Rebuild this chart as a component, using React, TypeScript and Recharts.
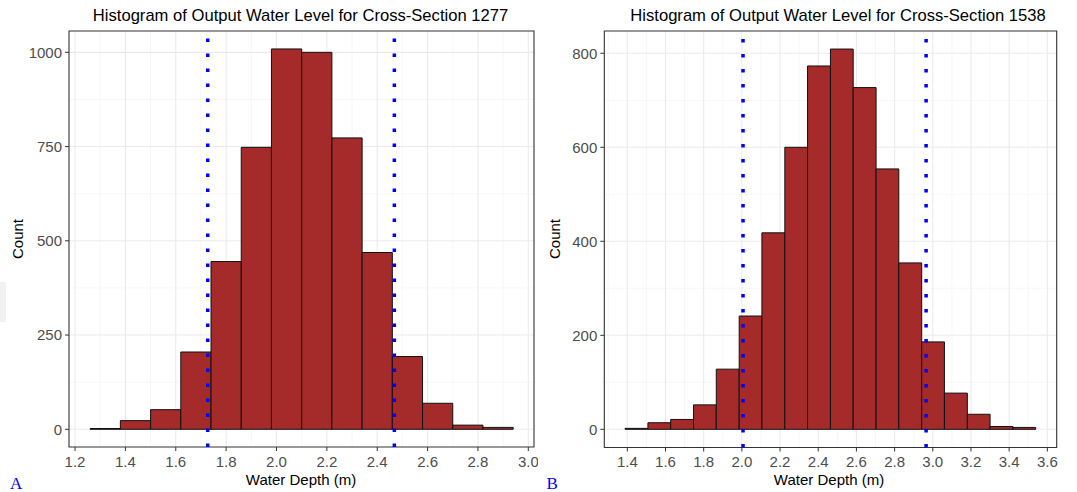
import React from "react";
import {
  ComposedChart,
  XAxis,
  YAxis,
  CartesianGrid,
  ReferenceLine,
  ReferenceArea,
} from "recharts";

// Cross-section 1277: bin edges (m) and counts
const edges1277 = [1.26, 1.38, 1.5, 1.62, 1.74, 1.86, 1.98, 2.1, 2.22, 2.34, 2.46, 2.58, 2.7, 2.82, 2.94];
const counts1277 = [2, 23, 52, 205, 445, 748, 1009, 1000, 773, 469, 193, 69, 11, 5];
const bounds1277 = [1.727, 2.468];
const xTicks1277 = [1.2, 1.4, 1.6, 1.8, 2.0, 2.2, 2.4, 2.6, 2.8, 3.0];
const xMinor1277 = [1.3, 1.5, 1.7, 1.9, 2.1, 2.3, 2.5, 2.7, 2.9];
const yTicks1277 = [0, 250, 500, 750, 1000];
const yMinor1277 = [125, 375, 625, 875];

// Cross-section 1538
const edges1538 = [1.388, 1.508, 1.627, 1.747, 1.866, 1.986, 2.105, 2.225, 2.344, 2.464, 2.583, 2.703, 2.822, 2.942, 3.061, 3.181, 3.3, 3.42, 3.539];
const counts1538 = [2, 14, 21, 52, 128, 241, 418, 600, 773, 809, 727, 554, 354, 186, 77, 32, 6, 4];
const bounds1538 = [2.006, 2.965];
const xTicks1538 = [1.4, 1.6, 1.8, 2.0, 2.2, 2.4, 2.6, 2.8, 3.0, 3.2, 3.4, 3.6];
const xMinor1538 = [1.3, 1.5, 1.7, 1.9, 2.1, 2.3, 2.5, 2.7, 2.9, 3.1, 3.3, 3.5];
const yTicks1538 = [0, 200, 400, 600, 800];
const yMinor1538 = [100, 300, 500, 700];

const FONT = "'Liberation Sans', Arial, sans-serif";
const FILL = "#A52A2A";
const Y_AXIS_W = 50;
const X_AXIS_H = 30;

type HistProps = {
  edges: number[];
  counts: number[];
  bounds: number[];
  xTicks: number[];
  xMinor: number[];
  yTicks: number[];
  yMinor: number[];
  xDomain: [number, number];
  yDomain: [number, number];
  width: number;
  plotLeft: number;
  plotRight: number;
  plotBottom: number;
};

function Histogram(p: HistProps) {
  const rows = p.counts.map((c, i) => ({
    lo: p.edges[i],
    hi: p.edges[i + 1],
    count: c,
  }));
  const tick = { fill: "#4D4D4D", fontSize: 15, fontFamily: FONT };
  const margin = {
    top: 31,
    right: p.plotRight,
    bottom: p.plotBottom - X_AXIS_H,
    left: p.plotLeft - Y_AXIS_W,
  };
  return (
    <ComposedChart width={p.width} height={492} data={rows} margin={margin}>
      <CartesianGrid
        verticalValues={p.xMinor}
        horizontalValues={p.yMinor}
        stroke="#F3F3F3"
        strokeWidth={0.7}
      />
      <CartesianGrid
        verticalValues={p.xTicks}
        horizontalValues={p.yTicks}
        stroke="#EBEBEB"
        strokeWidth={1.1}
      />
      <XAxis
        type="number"
        dataKey="lo"
        domain={p.xDomain}
        ticks={p.xTicks}
        allowDataOverflow
        height={X_AXIS_H}
        axisLine={false}
        tickLine={{ stroke: "#333333" }}
        tickSize={4}
        tickMargin={5}
        tick={tick}
        tickFormatter={(v: number) => v.toFixed(1)}
        interval={0}
      />
      <YAxis
        type="number"
        domain={p.yDomain}
        ticks={p.yTicks}
        allowDataOverflow
        width={Y_AXIS_W}
        axisLine={false}
        tickLine={{ stroke: "#333333" }}
        tickSize={4}
        tickMargin={3}
        tick={tick}
        interval={0}
      />
      {rows.map((r, i) => (
        <ReferenceArea
          key={i}
          x1={r.lo}
          x2={r.hi}
          y1={0}
          y2={r.count}
          fill={FILL}
          fillOpacity={1}
          stroke="#111111"
          strokeWidth={1}
          ifOverflow="visible"
        />
      ))}
      {p.bounds.map((b, i) => (
        <ReferenceLine
          key={"b" + i}
          x={b}
          stroke="#0000FF"
          strokeWidth={3.5}
          strokeDasharray="3.5 11.5"
        />
      ))}
      <ReferenceArea
        x1={p.xDomain[0]}
        x2={p.xDomain[1]}
        y1={p.yDomain[0]}
        y2={p.yDomain[1]}
        fill="none"
        stroke="#333333"
        strokeWidth={1.1}
        ifOverflow="visible"
      />
    </ComposedChart>
  );
}

export default function App() {
  const txt = { fontFamily: FONT, fill: "#000000" };
  const serif = "'Liberation Serif', 'Times New Roman', serif";
  return (
    <div
      style={{
        position: "absolute",
        left: 0,
        top: 0,
        width: 1077,
        height: 492,
        background: "#FFFFFF",
        overflow: "hidden",
      }}
    >
      <div style={{ position: "absolute", left: 0, top: 282, width: 6, height: 40, background: "#F1F1F1" }} />
      <div style={{ position: "absolute", left: 0, top: 0 }}>
        <Histogram
          edges={edges1277}
          counts={counts1277}
          bounds={bounds1277}
          xTicks={xTicks1277}
          xMinor={xMinor1277}
          yTicks={yTicks1277}
          yMinor={yMinor1277}
          xDomain={[1.176, 3.0226]}
          yDomain={[-47, 1056.6]}
          width={538}
          plotLeft={69}
          plotRight={4}
          plotBottom={45}
        />
      </div>
      <div style={{ position: "absolute", left: 538, top: 0 }}>
        <Histogram
          edges={edges1538}
          counts={counts1538}
          bounds={bounds1538}
          xTicks={xTicks1538}
          xMinor={xMinor1538}
          yTicks={yTicks1538}
          yMinor={yMinor1538}
          xDomain={[1.2795, 3.649]}
          yDomain={[-38.7, 847.4]}
          width={539}
          plotLeft={66.3}
          plotRight={20.3}
          plotBottom={44.5}
        />
      </div>
      <svg
        width={1077}
        height={492}
        style={{ position: "absolute", left: 0, top: 0, pointerEvents: "none" }}
      >
        <text x={300.5} y={20.7} textAnchor="middle" fontSize={16.6} {...txt}>
          Histogram of Output Water Level for Cross-Section 1277
        </text>
        <text x={838} y={20.7} textAnchor="middle" fontSize={16.6} {...txt}>
          Histogram of Output Water Level for Cross-Section 1538
        </text>
        <text x={301} y={484.5} textAnchor="middle" fontSize={15} {...txt}>
          Water Depth (m)
        </text>
        <text x={829} y={484.5} textAnchor="middle" fontSize={15} {...txt}>
          Water Depth (m)
        </text>
        <text transform="translate(23,239) rotate(-90)" textAnchor="middle" fontSize={15} {...txt}>
          Count
        </text>
        <text transform="translate(560,239) rotate(-90)" textAnchor="middle" fontSize={15} {...txt}>
          Count
        </text>
        <text x={10} y={489} fontSize={17} fill="#0000FF" fontFamily={serif}>
          A
        </text>
        <text x={546.5} y={489} fontSize={17} fill="#0000FF" fontFamily={serif}>
          B
        </text>
      </svg>
    </div>
  );
}
